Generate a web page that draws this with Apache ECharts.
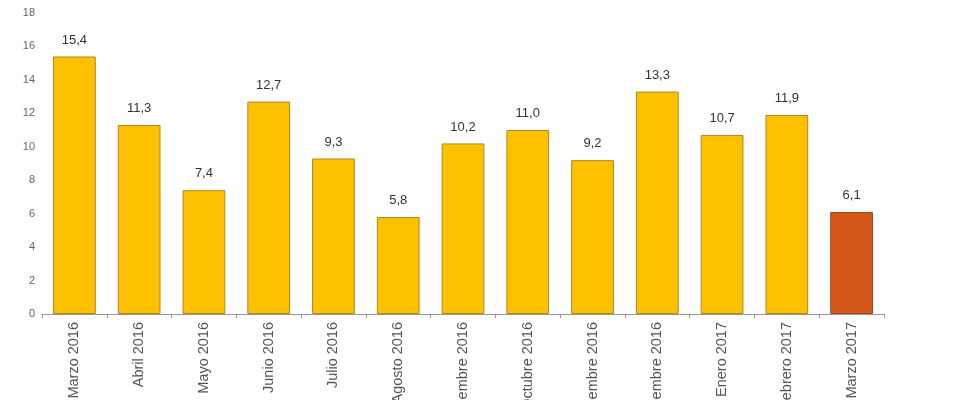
<!DOCTYPE html>
<html><head><meta charset="utf-8">
<script src="https://cdn.jsdelivr.net/npm/echarts@6/dist/echarts.min.js"></script>
<style>html,body{margin:0;padding:0;background:#fff}#c{width:960px;height:400px}</style>
</head><body><div id="c"></div>
<script>
var categories = ["Marzo 2016","Abril 2016","Mayo 2016","Junio 2016","Julio 2016","Agosto 2016","Septiembre 2016","Octubre 2016","Noviembre 2016","Diciembre 2016","Enero 2017","Febrero 2017","Marzo 2017"];
var values = [15.4,11.3,7.4,12.7,9.3,5.8,10.2,11.0,9.2,13.3,10.7,11.9,6.1];
var highlightIndex = 12;
var chart = echarts.init(document.getElementById('c'));
chart.setOption({
  animation:false,
  grid:{left:42,right:76,top:13,bottom:86,containLabel:false,outerBoundsMode:'none'},
  xAxis:{type:'category',data:categories,
    axisLine:{lineStyle:{color:'#999'}},
    axisTick:{show:true,alignWithLabel:false,length:4,lineStyle:{color:'#999'}},
    axisLabel:{rotate:90,color:'#555',fontSize:14.5,fontFamily:'Liberation Sans, Arial',margin:8,interval:0}},
  yAxis:{type:'value',min:0,max:18,interval:2,
    axisLine:{show:false},axisTick:{show:false},splitLine:{show:false},
    axisLabel:{color:'#666',fontSize:11,fontFamily:'Liberation Sans, Arial',margin:7}},
  series:[{type:'bar',barWidth:'66%',
    data:values.map(function(v,i){return {value:v,itemStyle:i===highlightIndex?{color:'#D4561B',borderColor:'#9a4a20',borderWidth:1}:{color:'#FFC000',borderColor:'#a88a20',borderWidth:1}};}),
    label:{show:true,position:'top',distance:10,color:'#333',fontSize:13,fontFamily:'Liberation Sans, Arial',
      formatter:function(p){return p.value.toFixed(1).replace('.',',');}}
  }]
});
</script></body></html>
